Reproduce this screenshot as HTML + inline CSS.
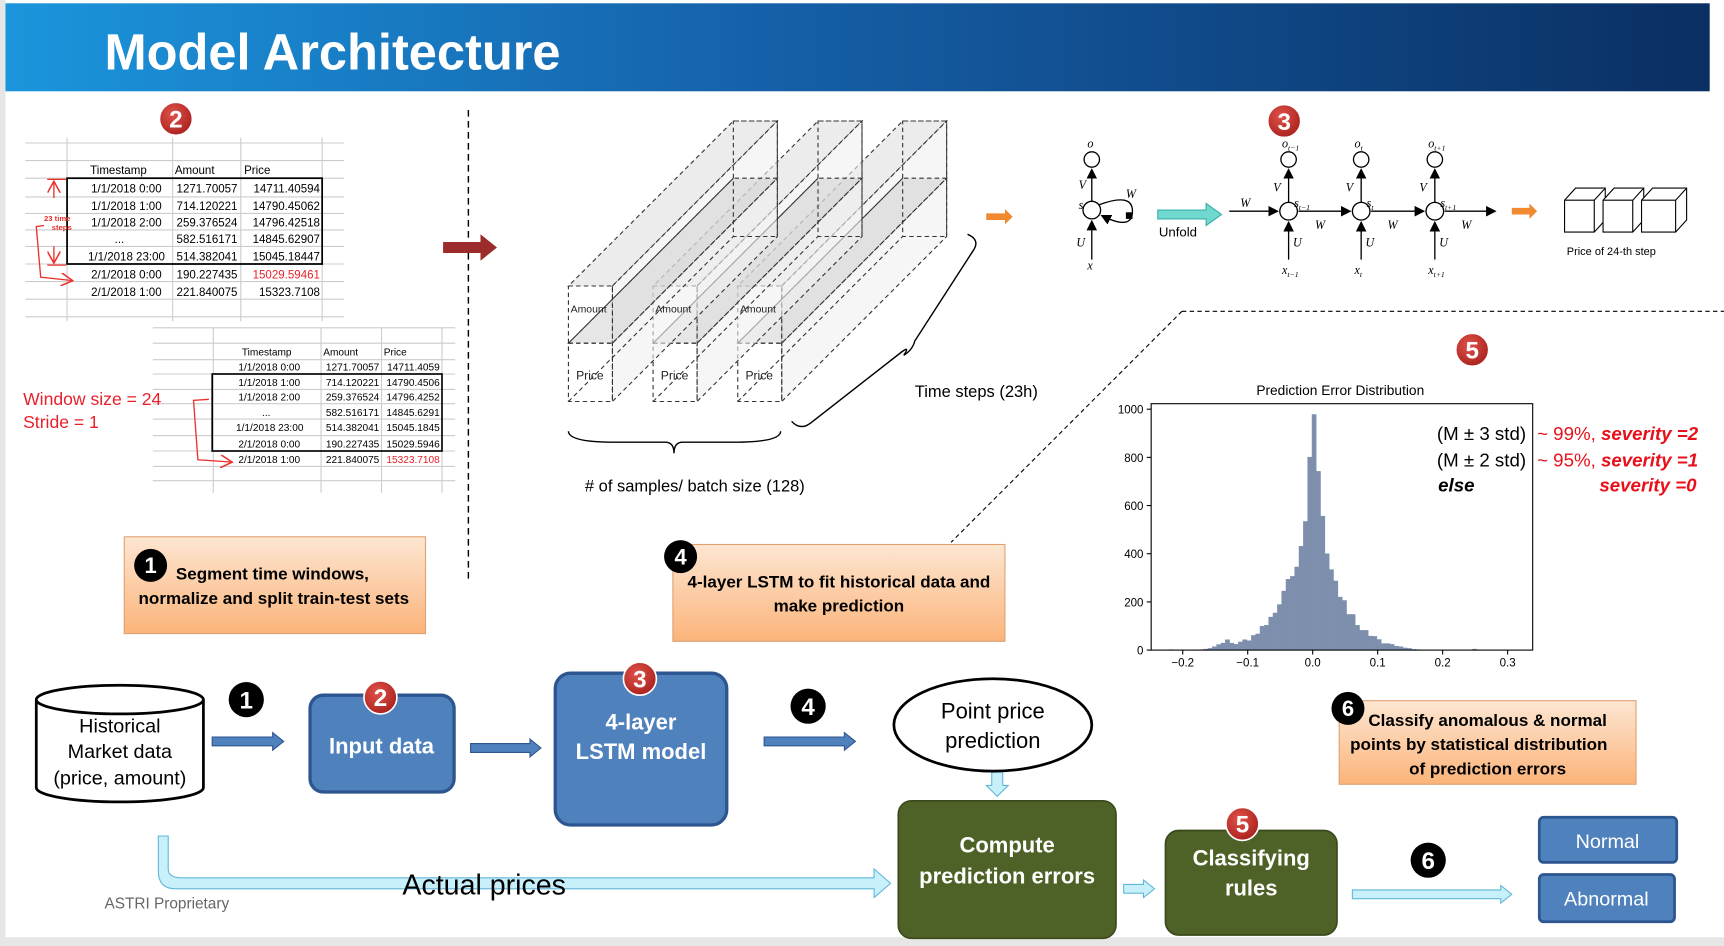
<!DOCTYPE html>
<html><head><meta charset="utf-8">
<style>
html,body{margin:0;padding:0;background:#fff;}
svg{display:block;font-family:"Liberation Sans",sans-serif;}
</style></head>
<body>
<svg id="main" width="1724" height="946" viewBox="0 0 1568 860" preserveAspectRatio="none">
<defs>
<linearGradient id="hdr" x1="0" x2="1" y1="0" y2="0"><stop offset="0" stop-color="#1b95dc"/><stop offset="0.45" stop-color="#1560a8"/><stop offset="1" stop-color="#0a2f63"/></linearGradient>
<linearGradient id="peach" x1="0" x2="0" y1="0" y2="1"><stop offset="0" stop-color="#fde6d2"/><stop offset="1" stop-color="#fbb47a"/></linearGradient>
<radialGradient id="redb" cx="0.4" cy="0.35" r="0.7"><stop offset="0" stop-color="#e0524a"/><stop offset="1" stop-color="#a8201c"/></radialGradient>
<marker id="ah" markerWidth="8" markerHeight="8" refX="7" refY="4" orient="auto"><path d="M0,0 L8,4 L0,8 z" fill="#000"/></marker>
<marker id="ahr" markerWidth="10" markerHeight="10" refX="8" refY="5" orient="auto"><path d="M0,0 L9,5 L0,10" fill="none" stroke="#e33" stroke-width="1.2"/></marker>
</defs>
<rect x="0" y="0" width="1568" height="860" fill="#fff"/>
<rect x="0" y="0" width="5" height="860" fill="#e6e6e6"/>
<rect x="0" y="852" width="1568" height="8" fill="#e6e6e6"/>
<rect x="5" y="3" width="1550" height="80" fill="url(#hdr)"/>
<text x="95" y="63" font-size="46" font-weight="bold" fill="#fff">Model Architecture</text>

<!-- top table -->
<g font-size="10.5">
<g stroke="#ccc" stroke-width="1">
<line x1="23" x2="313" y1="130" y2="130"/><line x1="23" x2="313" y1="146" y2="146"/><line x1="23" x2="313" y1="162" y2="162"/><line x1="23" x2="313" y1="179" y2="179"/><line x1="23" x2="313" y1="194" y2="194"/><line x1="23" x2="313" y1="209" y2="209"/><line x1="23" x2="313" y1="224" y2="224"/><line x1="23" x2="313" y1="240" y2="240"/><line x1="23" x2="313" y1="256" y2="256"/><line x1="23" x2="313" y1="272" y2="272"/><line x1="23" x2="313" y1="288" y2="288"/>
<line x1="61" x2="61" y1="125" y2="292"/><line x1="157" x2="157" y1="125" y2="292"/><line x1="219" x2="219" y1="125" y2="292"/><line x1="293" x2="293" y1="125" y2="292"/>
</g>
<rect x="61" y="162" width="232" height="78" fill="none" stroke="#000" stroke-width="1.6"/>
<text x="82" y="158">Timestamp</text><text x="159" y="158">Amount</text><text x="222" y="158">Price</text>
<g text-anchor="end">
<text x="147" y="175">1/1/2018 0:00</text><text x="216" y="175">1271.70057</text><text x="291" y="175">14711.40594</text>
<text x="147" y="191">1/1/2018 1:00</text><text x="216" y="191">714.120221</text><text x="291" y="191">14790.45062</text>
<text x="147" y="206">1/1/2018 2:00</text><text x="216" y="206">259.376524</text><text x="291" y="206">14796.42518</text>
<text x="113" y="221">...</text><text x="216" y="221">582.516171</text><text x="291" y="221">14845.62907</text>
<text x="150" y="237">1/1/2018 23:00</text><text x="216" y="237">514.382041</text><text x="291" y="237">15045.18447</text>
<text x="147" y="253">2/1/2018 0:00</text><text x="216" y="253">190.227435</text><text x="291" y="253" fill="#e8202a">15029.59461</text>
<text x="147" y="269">2/1/2018 1:00</text><text x="216" y="269">221.840075</text><text x="291" y="269">15323.7108</text>
</g>
<g stroke="#e8302a" fill="none" stroke-width="1.2">
<line x1="43" x2="60" y1="163" y2="163"/><line x1="49" x2="49" y1="166" y2="180" marker-end="url(#ahr)" transform="rotate(180 49 173)"/>
<line x1="49" x2="49" y1="224" y2="238" marker-end="url(#ahr)"/><line x1="43" x2="60" y1="241" y2="241"/>
<path d="M40,205 L33,206 L37,252 L65,255" marker-end="url(#ahr)"/>
</g>
<text x="40" y="201" font-size="7" fill="#e8302a" font-weight="bold">23 time</text><text x="47" y="209" font-size="7" fill="#e8302a" font-weight="bold">steps</text>
</g>

<!-- bottom table -->
<g font-size="9.2">
<g stroke="#ccc" stroke-width="1">
<line x1="139" x2="414" y1="298" y2="298"/><line x1="139" x2="414" y1="312" y2="312"/><line x1="139" x2="414" y1="327" y2="327"/><line x1="139" x2="414" y1="340" y2="340"/><line x1="139" x2="414" y1="354" y2="354"/><line x1="139" x2="414" y1="367" y2="367"/><line x1="139" x2="414" y1="381" y2="381"/><line x1="139" x2="414" y1="396" y2="396"/><line x1="139" x2="414" y1="410" y2="410"/><line x1="139" x2="414" y1="424" y2="424"/><line x1="139" x2="414" y1="437" y2="437"/>
<line x1="194" x2="194" y1="298" y2="448"/><line x1="292" x2="292" y1="298" y2="448"/><line x1="347" x2="347" y1="298" y2="448"/><line x1="402" x2="402" y1="298" y2="448"/>
</g>
<rect x="193" y="340" width="209" height="70" fill="none" stroke="#000" stroke-width="1.5"/>
<text x="220" y="323">Timestamp</text><text x="294" y="323">Amount</text><text x="349" y="323">Price</text>
<g text-anchor="end">
<text x="273" y="337">1/1/2018 0:00</text><text x="345" y="337">1271.70057</text><text x="400" y="337">14711.4059</text>
<text x="273" y="351">1/1/2018 1:00</text><text x="345" y="351">714.120221</text><text x="400" y="351">14790.4506</text>
<text x="273" y="364">1/1/2018 2:00</text><text x="345" y="364">259.376524</text><text x="400" y="364">14796.4252</text>
<text x="246" y="378">...</text><text x="345" y="378">582.516171</text><text x="400" y="378">14845.6291</text>
<text x="276" y="392">1/1/2018 23:00</text><text x="345" y="392">514.382041</text><text x="400" y="392">15045.1845</text>
<text x="273" y="407">2/1/2018 0:00</text><text x="345" y="407">190.227435</text><text x="400" y="407">15029.5946</text>
<text x="273" y="421">2/1/2018 1:00</text><text x="345" y="421">221.840075</text><text x="400" y="421" fill="#e8202a">15323.7108</text>
</g>
<path d="M190,363 L176,364 L180,418 L210,420" fill="none" stroke="#e8302a" stroke-width="1.2" marker-end="url(#ahr)"/>
</g>
<text x="21" y="368" font-size="16" fill="#e8202a">Window size = 24</text>
<text x="21" y="389" font-size="16" fill="#e8202a">Stride = 1</text>

<line x1="426" x2="426" y1="100" y2="530" stroke="#000" stroke-dasharray="6,4" stroke-width="1.3"/>
<path d="M403,220 L437,220 L437,213 L452,225 L437,237 L437,230 L403,230 z" fill="#9c2b2b"/>

<!-- 3D blocks -->
<g id="blocks" stroke="#333" stroke-dasharray="4,3" stroke-width="1"></g>
<text x="832" y="361" font-size="15">Time steps (23h)</text>
<text x="532" y="447" font-size="15"># of samples/ batch size (128)</text>
<path d="M517,392 Q517,402 560,402 L605,402 Q613,402 613,412 Q613,402 621,402 L667,402 Q710,402 710,392" fill="none" stroke="#000" stroke-width="1.3"/>
<path d="M720,383 Q728,392 738,384 L820,320 Q828,314 822,323 Q830,318 832,310 L885,228 Q892,218 880,213" fill="none" stroke="#000" stroke-width="1.3"/>
<path d="M897,194 L914,194 L914,190 L921,197 L914,204 L914,200 L897,200 z" fill="#f08a30"/>

<!-- RNN diagram -->
<g font-family="Liberation Serif, serif" font-style="italic" font-size="11" stroke-width="1.2">
<circle cx="993" cy="191" r="8" fill="#fff" stroke="#000"/>
<circle cx="993" cy="145" r="7" fill="#fff" stroke="#000"/>
<line x1="993" y1="183" x2="993" y2="154" stroke="#000" marker-end="url(#ah)"/>
<line x1="993" y1="236" x2="993" y2="201" stroke="#000" marker-end="url(#ah)"/>
<path d="M1000,186 Q1030,175 1030,192 Q1030,210 1002,196" fill="none" stroke="#000" marker-end="url(#ah)"/>
<rect x="1024" y="193" width="6" height="6" fill="#000"/>
<text x="989" y="134">o</text><text x="981" y="172">V</text><text x="981" y="190">s</text><text x="979" y="224">U</text><text x="989" y="245">x</text><text x="1024" y="180">W</text>
<path d="M1053,191 L1097,191 L1097,185 L1111,195 L1097,205 L1097,199 L1053,199 z" fill="#6fd9d0" stroke="#3ab0a8" stroke-width="1"/>
<text x="1054" y="215" font-family="Liberation Sans,sans-serif" font-style="normal" font-size="12">Unfold</text>
<line x1="1118" y1="192" x2="1162" y2="192" stroke="#000" marker-end="url(#ah)"/>
<line x1="1181" y1="192" x2="1228" y2="192" stroke="#000" marker-end="url(#ah)"/>
<line x1="1247" y1="192" x2="1295" y2="192" stroke="#000" marker-end="url(#ah)"/>
<line x1="1314" y1="192" x2="1360" y2="192" stroke="#000" marker-end="url(#ah)"/>
<text x="1128" y="188">W</text><text x="1196" y="208">W</text><text x="1262" y="208">W</text><text x="1329" y="208">W</text>
<g id="rnncells"></g>
</g>
<path d="M1375,189 L1391,189 L1391,185 L1398,192 L1391,199 L1391,195 L1375,195 z" fill="#f08a30"/>
<g fill="#fff" stroke="#000" stroke-width="1">
<path d="M1423,182 L1433,171 L1460,171 L1460,200 L1450,211 L1423,211 z"/><path d="M1423,182 L1450,182 L1460,171 M1450,182 L1450,211"/>
<path d="M1458,182 L1468,171 L1495,171 L1495,200 L1485,211 L1458,211 z"/><path d="M1458,182 L1485,182 L1495,171 M1485,182 L1485,211"/>
<path d="M1493,182 L1503,171 L1534,171 L1534,200 L1524,211 L1493,211 z"/><path d="M1493,182 L1524,182 L1534,171 M1524,182 L1524,211"/>
</g>
<text x="1425" y="232" font-size="10">Price of 24-th step</text>

<path d="M1075,283 L1568,283 M1075,283 L865,493" fill="none" stroke="#000" stroke-dasharray="4,3"/>

<!-- histogram -->
<g id="hist"></g>
<g font-size="17">
<text x="1388" y="400" text-anchor="end">(M ± 3 std)</text>
<text x="1388" y="424" text-anchor="end">(M ± 2 std)</text>
<text x="1308" y="447" font-weight="bold" font-style="italic">else</text>
<text x="1398" y="400" fill="#e8101a">~ 99%, <tspan font-weight="bold" font-style="italic">severity =2</tspan></text>
<text x="1398" y="424" fill="#e8101a">~ 95%, <tspan font-weight="bold" font-style="italic">severity =1</tspan></text>
<text x="1543" y="447" fill="#e8101a" text-anchor="end" font-weight="bold" font-style="italic">severity =0</text>
</g>

<!-- orange boxes -->
<g>
<rect x="113" y="488" width="274" height="88" fill="url(#peach)" stroke="#e0a070"/>
<circle cx="137" cy="514" r="15" fill="#000"/><text x="137" y="521" fill="#fff" font-size="20" font-weight="bold" text-anchor="middle">1</text>
<text x="160" y="527" font-size="15.5" font-weight="bold">Segment time windows,</text>
<text x="126" y="549" font-size="15.5" font-weight="bold">normalize and split train-test sets</text>
</g>
<g>
<rect x="612" y="495" width="302" height="88" fill="url(#peach)" stroke="#e0a070"/>
<circle cx="619" cy="506" r="15" fill="#000"/><text x="619" y="513" fill="#fff" font-size="20" font-weight="bold" text-anchor="middle">4</text>
<text x="763" y="534" font-size="15.5" font-weight="bold" text-anchor="middle">4-layer LSTM to fit historical data and</text>
<text x="763" y="556" font-size="15.5" font-weight="bold" text-anchor="middle">make prediction</text>
</g>
<g>
<rect x="1218" y="637" width="270" height="76" fill="url(#peach)" stroke="#e0a070"/>
<circle cx="1226" cy="644" r="15" fill="#000"/><text x="1226" y="651" fill="#fff" font-size="20" font-weight="bold" text-anchor="middle">6</text>
<text x="1353" y="660" font-size="15.5" font-weight="bold" text-anchor="middle">Classify anomalous &amp; normal</text>
<text x="1345" y="682" font-size="15.5" font-weight="bold" text-anchor="middle">points by statistical distribution</text>
<text x="1353" y="704" font-size="15.5" font-weight="bold" text-anchor="middle">of prediction errors</text>
</g>

<!-- flow -->
<g>
<path d="M33,636 L33,716 A76,13 0 0 0 185,716 L185,636" fill="#fff" stroke="#000" stroke-width="2.5"/>
<ellipse cx="109" cy="636" rx="76" ry="13" fill="#fff" stroke="#000" stroke-width="2.5"/>
<text x="109" y="666" font-size="18" text-anchor="middle">Historical</text>
<text x="109" y="689" font-size="18" text-anchor="middle">Market data</text>
<text x="109" y="713" font-size="18" text-anchor="middle">(price, amount)</text>
</g>
<g id="arrows"></g>
<g>
<rect x="282" y="632" width="131" height="88" rx="12" fill="#4f81bd" stroke="#2d5590" stroke-width="3"/>
<text x="347" y="685" fill="#fff" font-size="20" font-weight="bold" text-anchor="middle">Input data</text>
</g>
<g>
<rect x="505" y="612" width="156" height="138" rx="14" fill="#4f81bd" stroke="#2d5590" stroke-width="3"/>
<text x="583" y="663" fill="#fff" font-size="20" font-weight="bold" text-anchor="middle">4-layer</text>
<text x="583" y="690" fill="#fff" font-size="20" font-weight="bold" text-anchor="middle">LSTM model</text>
</g>
<g>
<ellipse cx="903" cy="659" rx="90" ry="42" fill="#fff" stroke="#000" stroke-width="2.5"/>
<text x="903" y="653" font-size="20" text-anchor="middle">Point price</text>
<text x="903" y="680" font-size="20" text-anchor="middle">prediction</text>
</g>
<g>
<rect x="817" y="728" width="198" height="125" rx="12" fill="#4e6126" stroke="#3a4a1c" stroke-width="1.5"/>
<text x="916" y="775" fill="#fff" font-size="20" font-weight="bold" text-anchor="middle">Compute</text>
<text x="916" y="803" fill="#fff" font-size="20" font-weight="bold" text-anchor="middle">prediction errors</text>
</g>
<g>
<rect x="1060" y="755" width="156" height="95" rx="12" fill="#4e6126" stroke="#3a4a1c" stroke-width="1.5"/>
<text x="1138" y="787" fill="#fff" font-size="20" font-weight="bold" text-anchor="middle">Classifying</text>
<text x="1138" y="814" fill="#fff" font-size="20" font-weight="bold" text-anchor="middle">rules</text>
</g>
<g>
<rect x="1400" y="743" width="125" height="41" rx="4" fill="#4f81bd" stroke="#2d5590" stroke-width="2.5"/>
<text x="1462" y="771" fill="#fff" font-size="18" text-anchor="middle">Normal</text>
</g>
<g>
<rect x="1400" y="795" width="123" height="43" rx="4" fill="#4f81bd" stroke="#2d5590" stroke-width="2.5"/>
<text x="1461" y="823" fill="#fff" font-size="18" text-anchor="middle">Abnormal</text>
</g>
<text x="366" y="813" font-size="26">Actual prices</text>
<text x="95" y="826" font-size="14" fill="#666">ASTRI Proprietary</text>
<g id="badges"></g>
</svg>
<script>
// histogram data
const binStart = -0.2215;
const binWidth = 0.00667;
const binCounts = [3,0,0,2,0,0,0,3,5,8,15,24,30,44,30,25,35,44,40,62,68,100,104,138,155,190,246,295,307,346,432,535,802,979,743,557,401,335,288,221,207,149,149,104,83,83,59,58,45,28,28,25,17,15,10,8,4,3,0,0,0,0,0,0,0,0,0,0,0,0,5];
const xTicks = [-0.2,-0.1,0.0,0.1,0.2,0.3];
const xTickLabels = ["\u22120.2","\u22120.1","0.0","0.1","0.2","0.3"];
const yTicks = [0,200,400,600,800,1000];

const NS="http://www.w3.org/2000/svg";
function mk(tag,attrs,parent){const e=document.createElementNS(NS,tag);for(const k in attrs)e.setAttribute(k,attrs[k]);parent.appendChild(e);return e;}
const L=1047,R=1394,T=367,B=591;
const xs=v=>1193.9+v*591;
const ys=c=>B-c*0.219;
const hist=document.getElementById('hist');
let t=mk('text',{x:1219,y:359,'font-size':12.5,'text-anchor':'middle'},hist);t.textContent='Prediction Error Distribution';


binCounts.forEach((c,i)=>{if(c<=0)return;const x0=xs(binStart+i*binWidth),x1=xs(binStart+(i+1)*binWidth);
const r=mk('rect',{x:x0,y:ys(c),width:x1-x0+0.3,height:B-ys(c),fill:'#7d8fad'},hist);

});
const fr=mk('rect',{x:L,y:T,width:R-L,height:B-T,fill:'none',stroke:'#000','stroke-width':1},hist);


xTicks.forEach((v,i)=>{mk('line',{x1:xs(v),x2:xs(v),y1:B,y2:B+4,stroke:'#000'},hist);
const tx=mk('text',{x:xs(v),y:B+15,'font-size':10.5,'text-anchor':'middle'},hist);tx.textContent=xTickLabels[i];

});
yTicks.forEach(v=>{mk('line',{x1:L-4,x2:L,y1:ys(v),y2:ys(v),stroke:'#000'},hist);
const tx=mk('text',{x:L-7,y:ys(v)+4,'font-size':10.5,'text-anchor':'end'},hist);tx.textContent=v;

});

// 3D blocks (semi-transparent)
const bl=document.getElementById('blocks');
const D=150;
[2,1,0].forEach(i=>{const x0=517+77*i;
mk('polygon',{points:`${x0},260 ${x0+40},260 ${x0+40+D},${260-D} ${x0+D},${260-D}`,fill:'#dcdcdc','fill-opacity':0.55},bl);
mk('polygon',{points:`${x0+40},260 ${x0+40+D},${260-D} ${x0+40+D},${365-D} ${x0+40},365`,fill:'#f0f0f0','fill-opacity':0.6},bl);
mk('polygon',{points:`${x0},312 ${x0+40},312 ${x0+40+D},${312-D} ${x0+D},${312-D}`,fill:'#c8c8c8','fill-opacity':0.45},bl);
mk('rect',{x:x0+D,y:260-D,width:40,height:105,fill:'none'},bl);
mk('line',{x1:x0,x2:x0+D,y1:365,y2:365-D},bl);
mk('line',{x1:x0,x2:x0+D,y1:312,y2:312-D},bl);
mk('line',{x1:x0+40,x2:x0+40+D,y1:312,y2:312-D},bl);
mk('rect',{x:x0,y:260,width:40,height:105,fill:'none'},bl);
mk('line',{x1:x0,x2:x0+40,y1:312,y2:312},bl);});
[0,1,2].forEach(i=>{const x0=517+77*i;
const a=mk('text',{x:x0+2,y:284,'font-size':9.5,stroke:'none',fill:'#222'},bl);a.textContent='Amount';
const p=mk('text',{x:x0+7,y:345,'font-size':11,stroke:'none',fill:'#222'},bl);p.textContent='Price';});

// rnn cells
const rc=document.getElementById('rnncells');
[['t\u22121',1172],['t',1238],['t+1',1305]].forEach(([s,x])=>{
mk('circle',{cx:x,cy:192,r:8,fill:'#fff',stroke:'#000'},rc);
mk('circle',{cx:x,cy:145,r:7,fill:'#fff',stroke:'#000'},rc);
mk('line',{x1:x,y1:184,x2:x,y2:154,stroke:'#000','marker-end':'url(#ah)'},rc);
mk('line',{x1:x,y1:236,x2:x,y2:202,stroke:'#000','marker-end':'url(#ah)'},rc);
let e=mk('text',{x:x-6,y:134},rc);e.innerHTML=`o<tspan font-size="7" dy="3">${s}</tspan>`;
e=mk('text',{x:x-6,y:249},rc);e.innerHTML=`x<tspan font-size="7" dy="3">${s}</tspan>`;
e=mk('text',{x:x+5,y:188},rc);e.innerHTML=`s<tspan font-size="7" dy="3">${s}</tspan>`;
e=mk('text',{x:x-14,y:174},rc);e.textContent='V';
e=mk('text',{x:x+4,y:224},rc);e.textContent='U';});

// flow arrows
const ar=document.getElementById('arrows');
function blockArrow(x1,x2,y,col,st,h){const hh=h||4;const tip=10;
const g=mk('path',{d:`M${x1},${y-hh} L${x2-tip},${y-hh} L${x2-tip},${y-hh-4} L${x2},${y} L${x2-tip},${y+hh+4} L${x2-tip},${y+hh} L${x1},${y+hh} z`,fill:col,stroke:st,'stroke-width':1},ar);return g;}
let g;
g=blockArrow(193,258,674,'#4f81bd','#2d5590');
g=blockArrow(428,492,680,'#4f81bd','#2d5590');
g=blockArrow(695,778,674,'#4f81bd','#2d5590');
g=blockArrow(1022,1050,808,'#c8f0fa','#60b8d8');
g=blockArrow(1230,1375,813,'#c8f0fa','#60b8d8');
g=mk('path',{d:'M902,702 L912,702 L912,714 L917,714 L907,724 L897,714 L902,714 z',fill:'#c8f0fa',stroke:'#60b8d8'},ar);


g=mk('path',{d:'M144,760 L153,760 L153,790 Q153,798 165,798 L795,798 L795,790 L810,803 L795,816 L795,808 L160,808 Q144,808 144,792 z',fill:'#c8f0fa',stroke:'#60b8d8'},ar);



// badges
const bd=document.getElementById('badges');
[[160,108,'2'],[1168,110,'3'],[1339,318,'5'],[346,634,'2'],[582,617,'3'],[1130,749,'5']].forEach(([x,y,s])=>{
const c=mk('circle',{cx:x,cy:y,r:15,fill:'url(#redb)',stroke:'#fff','stroke-width':1.5},bd);


const tx=mk('text',{x:x,y:y+8,fill:'#fff','font-size':22,'font-weight':'bold','text-anchor':'middle'},bd);tx.textContent=s;});
[[224,636,'1'],[735,642,'4'],[1299,782,'6']].forEach(([x,y,s])=>{
const c=mk('circle',{cx:x,cy:y,r:16,fill:'#000'},bd);


const tx=mk('text',{x:x,y:y+8,fill:'#fff','font-size':22,'font-weight':'bold','text-anchor':'middle'},bd);tx.textContent=s;});
</script>
</body></html>
